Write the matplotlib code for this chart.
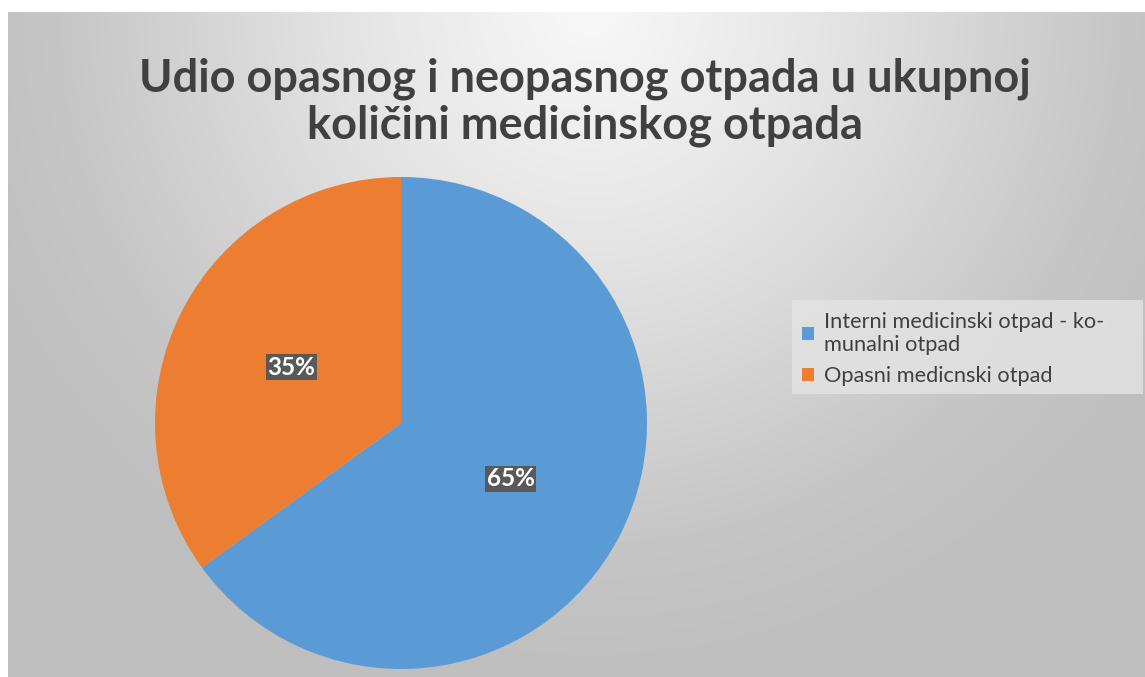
import numpy as np
import matplotlib
matplotlib.use("Agg")
import matplotlib.pyplot as plt
from matplotlib.patches import Patch, Rectangle

# ── Data ──────────────────────────────────────────────────────────────────────
categories = ["Interni medicinski otpad - ko-\nmunalni otpad", "Opasni medicnski otpad"]
shares = [65, 35]
colors = ["#5B9BD5", "#ED7D31"]
title = "Udio opasnog i neopasnog otpada u ukupnoj\nkoličini medicinskog otpada"

plt.rcParams["font.family"] = ["Lato", "DejaVu Sans"]

W, H = 1145, 677
fig = plt.figure(figsize=(W / 100, H / 100), dpi=100, facecolor="white")

# ── Background: radial grey gradient, light at top centre ────────────────────
x0, y0 = 8, 12
bg = fig.add_axes([x0 / W, 0, (W - x0) / W, (H - y0) / H])
yy, xx = np.mgrid[y0:H, x0:W]
r = np.hypot(xx - 590, yy - 12)
shade = np.interp(r, [0, 220, 530, 660], [248, 230, 198, 191]) / 255
bg.imshow(np.dstack([shade] * 3), aspect="auto", interpolation="bilinear")
bg.set_axis_off()

# ── Pie ───────────────────────────────────────────────────────────────────────
cx, cy, rad = 401, 423, 246
ax = fig.add_axes([(cx - rad) / W, (H - cy - rad) / H, 2 * rad / W, 2 * rad / H])
wedges, _, autotexts = ax.pie(
    shares, colors=colors, startangle=90, counterclock=False,
    autopct="%d%%", pctdistance=0.5,
    wedgeprops=dict(linewidth=0),
)
for t in autotexts:
    t.set_color("white")
    t.set_fontweight("bold")
    t.set_fontsize(17.5)
    t.set_bbox(dict(facecolor="#595959", edgecolor="none", pad=1.2))
ax.set_xlim(-1, 1)
ax.set_ylim(-1, 1)
ax.set_aspect("equal")

# ── Title ─────────────────────────────────────────────────────────────────────
fig.text(585 / W, 1 - 102 / H, title, ha="center", va="center",
         fontsize=32.5, fontweight="bold", color="#404040", linespacing=1.12)

# ── Legend (frame drawn separately to match the wide box) ────────────────────
fig.patches.append(Rectangle((792 / W, 1 - 394 / H), (1143 - 792) / W, 94 / H,
                             transform=fig.transFigure, facecolor="#E4E4E4",
                             edgecolor="none", alpha=0.8, zorder=1))
handles = [Patch(facecolor=c, edgecolor="none") for c in colors]
leg = fig.legend(handles, categories, loc="upper left",
                 bbox_to_anchor=(792 / W, 1 - 302 / H),
                 frameon=False, fontsize=15.7, handlelength=0.55, handleheight=0.55,
                 handletextpad=0.45, labelspacing=0.5, borderpad=0.45,
                 borderaxespad=0)
for t in leg.get_texts():
    t.set_color("#404040")

fig.savefig("out.png", dpi=100, facecolor="white")
